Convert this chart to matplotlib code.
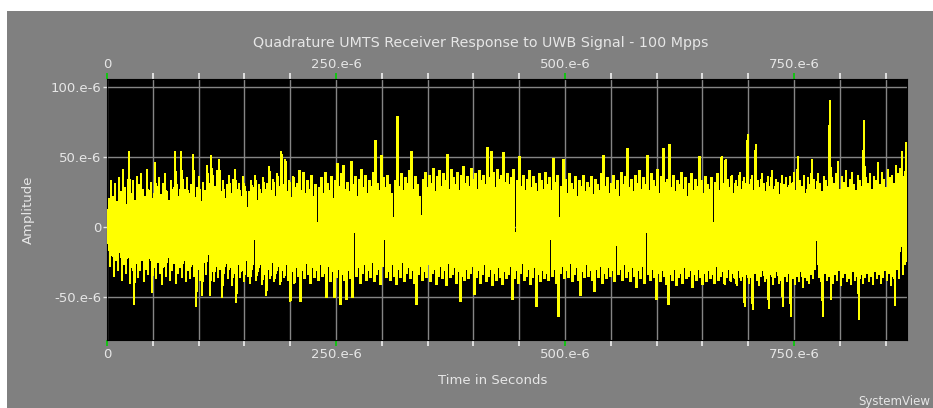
import matplotlib
matplotlib.use('Agg')
import matplotlib.pyplot as plt
from matplotlib.patches import Rectangle
from matplotlib.ticker import MultipleLocator, FuncFormatter
import numpy as np

# receiver output, sampled envelope in micro-units: one peak and one trough per sample pair
peaks_uv = [
    8, 20, 33, 22, 31, 18, 35, 25, 41, 28, 16, 54, 24, 33, 19, 36, 30, 38, 27, 22,
    41, 26, 32, 20, 46, 29, 35, 23, 31, 38, 25, 19, 33, 27, 54, 30, 22, 54, 34, 27,
    35, 24, 30, 52, 21, 28, 36, 18, 32, 26, 44, 31, 51, 37, 29, 40, 48, 25, 33, 20,
    30, 37, 24, 34, 41, 27, 31, 22, 36, 29, 14, 25, 33, 28, 37, 19, 30, 24, 35, 27,
    31, 43, 26, 34, 22, 38, 29, 54, 30, 48, 25, 33, 21, 36, 28, 31, 40, 26, 39, 24,
    33, 27, 37, 22, 30, 3, 28, 35, 24, 39, 31, 26, 36, 20, 33, 45, 29, 38, 44, 27,
    32, 25, 47, 30, 36, 22, 34, 41, 28, 37, 24, 33, 29, 39, 62, 31, 26, 51, 35, 28,
    37, 30, 24, 7, 33, 79, 29, 38, 26, 35, 31, 40, 54, 27, 36, 30, 22, 8, 34, 39,
    28, 37, 31, 42, 25, 36, 40, 29, 38, 33, 52, 27, 41, 35, 30, 39, 26, 37, 43, 31,
    36, 29, 42, 34, 38, 27, 40, 33, 37, 30, 57, 35, 54, 39, 28, 41, 34, 37, 53, 32,
    38, 30, 35, 41, -4, 33, 50, 29, 37, 26, 34, 40, 28, 36, 31, 25, 38, 33, 27, 39,
    30, 35, 26, 49, 32, 37, 7, 29, 48, 34, 24, 38, 31, 27, 36, 22, 33, 29, 37, 25,
    32, 28, 36, 23, 34, 30, 26, 38, 51, 29, 35, 24, 31, 37, 27, 33, 22, 39, 30, 36,
    56, 28, 34, 25, 37, 31, 40, 27, 35, 30, 51, 26, 38, 33, 29, 41, 24, 36, 56, 32,
    34, 59, 28, 37, 25, 33, 30, 39, 27, 35, 22, 31, 38, 26, 34, 29, 50, 33, 24, 36,
    30, 27, 35, 3, 32, 38, 26, 50, 31, 48, 34, 28, 37, 24, 33, 29, 39, 27, 35, 31,
    66, 30, 37, 26, 59, 33, 28, 38, 31, 25, 36, 29, 40, 27, 34, 32, 23, 37, 30, 35,
    28, 36, 31, 39, 26, 50, 33, 29, 37, 24, 35, 30, 48, 34, 27, 38, 31, 25, 36, 33,
    29, 90, 35, 31, 38, 47, 27, 36, 32, 40, 28, 34, 39, 30, 26, 37, 33, 29, 76, 35,
    31, 38, 27, 36, 33, 46, 30, 39, 34, 28, 41, 35, 37, 31, 44, 38, 42, 54, 36, 60,
]
troughs_uv = [
    -12, -28, -20, -35, -24, -31, -18, -38, -27, -33, -22, -40, -29, -55, -26, -36, -31, -24, -39, -30,
    -34, -8, -47, -29, -37, -25, -33, -41, -28, -35, -22, -38, -31, -26, -40, -33, -29, -36, -24, -39,
    -31, -37, -27, -35, -57, -30, -38, -49, -25, -34, -8, -49, -32, -39, -28, -36, -30, -50, -33, -26,
    -37, -29, -42, -33, -54, -27, -36, -31, -39, -24, -35, -40, -30, -9, -38, -32, -27, -41, -34, -49,
    -30, -37, -25, -39, -33, -28, -41, -31, -36, -27, -38, -53, -32, -40, -29, -35, -53, -31, -37, -26,
    -34, -40, -29, -36, -31, -38, -27, -35, -33, -50, -28, -39, -32, -50, -36, -30, -55, -34, -38, -52,
    -31, -37, -50, -4, -35, -29, -40, -33, -27, -38, -31, -36, -25, -39, -34, -30, -41, -28, -9, -36,
    -32, -38, -27, -35, -41, -30, -36, -25, -39, -33, -29, -37, -31, -40, -55, -34, -28, -38, -32, -36,
    -27, -39, -33, -30, -41, -35, -28, -37, -31, -42, -26, -36, -34, -29, -40, -32, -53, -35, -38, -30,
    -37, -33, -28, -48, -36, -31, -40, -34, -27, -39, -35, -30, -42, -33, -38, -29, -36, -41, -32, -37,
    -34, -28, -52, -37, -31, -40, -33, -26, -38, -35, -30, -41, -36, -29, -57, -34, -39, -31, -37, -33,
    -38, -9, -35, -30, -40, -64, -33, -28, -37, -31, -36, -26, -39, -34, -29, -38, -49, -32, -36, -27,
    -35, -31, -38, -46, -30, -36, -28, -40, -33, -37, -29, -35, -31, -39, -13, -34, -30, -38, -27, -36,
    -32, -39, -29, -35, -43, -31, -37, -28, -40, -4, -34, -38, -30, -36, -52, -33, -39, -31, -35, -41,
    -55, -34, -38, -30, -42, -36, -33, -40, -29, -37, -35, -31, -43, -34, -38, -30, -36, -41, -33, -39,
    -31, -37, -34, -40, -28, -38, -35, -32, -41, -36, -30, -39, -33, -37, -42, -31, -38, -35, -57, -34,
    -40, -36, -59, -33, -38, -42, -35, -31, -39, -37, -58, -34, -41, -36, -32, -40, -38, -57, -35, -39,
    -33, -64, -37, -41, -35, -39, -32, -43, -36, -38, -40, -34, -37, -30, -7, -36, -39, -64, -33, -38,
    -35, -52, -40, -34, -38, -31, -42, -36, -33, -39, -37, -41, -32, -38, -35, -66, -34, -40, -36, -33,
    -39, -35, -41, -32, -37, -34, -40, -36, -31, -38, -33, -42, -35, -56, -30, -37, -6, -34, -27, -24,
]
t_end = 873.4e-6

amp = np.empty(2 * len(peaks_uv))
amp[0::2] = peaks_uv
amp[1::2] = troughs_uv
amp = amp * 1e-6
t = np.linspace(0, t_end, len(amp))

txt = '#e6e6e6'
panel = '#808080'

fig = plt.figure(figsize=(9.33, 4.08), dpi=100, facecolor='white')
# grey panel behind everything, leaving a thin white margin top/left
fig.patches.append(Rectangle((7 / 933, 0), 1, 1 - 11 / 408, transform=fig.transFigure,
                             facecolor=panel, edgecolor='none', zorder=-5))

ax = fig.add_axes([107 / 933, 1 - 340 / 408, 800 / 933, 261 / 408])
ax.set_zorder(2)
ax.set_facecolor('black')
ax.plot(t, amp, color='#ffff00', lw=1.1, antialiased=False, solid_joinstyle='miter', zorder=3)
ax.set_xlim(0, t_end)
ax.set_ylim(-80.7e-6, 105.7e-6)

def sci_fmt(v, pos):
    if abs(v) < 1e-12:
        return '0'
    return '%d.e-6' % round(v * 1e6)

ax.xaxis.set_major_locator(MultipleLocator(250e-6))
ax.xaxis.set_minor_locator(MultipleLocator(50e-6))
ax.xaxis.set_major_formatter(FuncFormatter(sci_fmt))
ax.yaxis.set_major_locator(MultipleLocator(50e-6))
ax.yaxis.set_major_formatter(FuncFormatter(sci_fmt))

ax.grid(which='both', axis='x', color='#858585', lw=1.0, zorder=1)
ax.grid(which='major', axis='y', color='#858585', lw=1.0, zorder=1)
ax.set_axisbelow(True)

ax.tick_params(axis='x', which='major', top=True, labeltop=True, direction='out',
               length=4, width=1.2, color='#00d000', labelcolor=txt, labelsize=9.5, pad=2)
ax.tick_params(axis='x', which='minor', top=True, direction='out',
               length=4, width=1.2, color='#f0f0f0')
ax.tick_params(axis='y', which='major', direction='out', length=3, width=1,
               color=txt, labelcolor=txt, labelsize=9.5, pad=1)
for s in ax.spines.values():
    s.set_color('black')

fig.text(481 / 933, 1 - 43 / 408, 'Quadrature UMTS Receiver Response to UWB Signal - 100 Mpps',
         color=txt, fontsize=10.3, ha='center', va='center')
fig.text(493 / 933, 1 - 380 / 408, 'Time in Seconds', color=txt, fontsize=9.5,
         ha='center', va='center')
fig.text(28 / 933, 1 - 210 / 408, 'Amplitude', color=txt, fontsize=9.5, rotation=90,
         ha='center', va='center')
fig.text(930 / 933, 1 - 401 / 408, 'SystemView', color=txt, fontsize=8.5,
         ha='right', va='center')

fig.savefig('out.png', dpi=100, facecolor='white')
